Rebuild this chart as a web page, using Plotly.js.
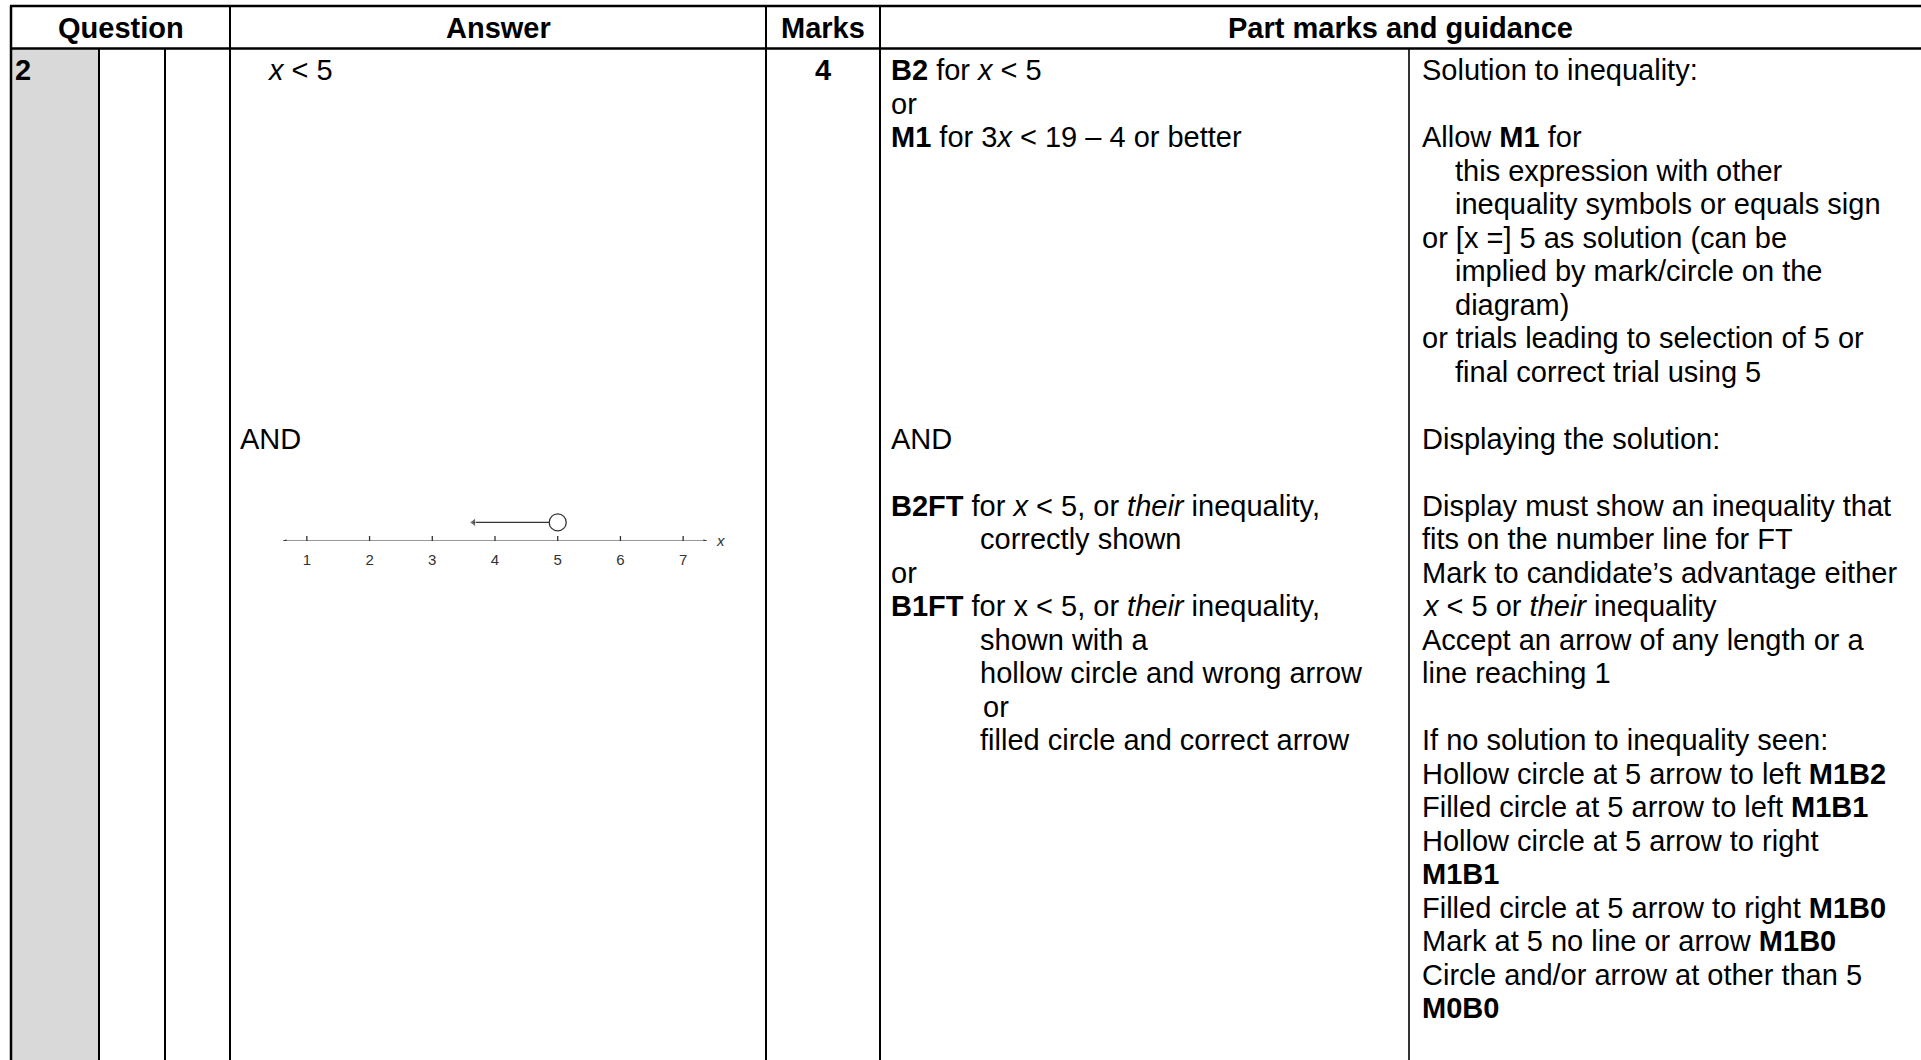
<!DOCTYPE html>
<html>
<head>
<meta charset="utf-8">
<script src="https://cdn.plot.ly/plotly-3.0.1.min.js"></script>
<style>
  html, body { margin: 0; padding: 0; background: #fff; }
  #chart { width: 1921px; height: 1060px; }
</style>
</head>
<body>
<div id="chart"></div>
<script>
// header cells
var headers = ['Question', 'Answer', 'Marks', 'Part marks and guidance'];
var questionNo = '2';
var marksValue = '4';

// answer column, one entry per text line
var answerLines = ['<i>x</i> &lt; 5', '', '', '', '', '', '', '', '', '', '', 'AND'];

// part marks column
var partLines = [
  '<b>B2</b> for <i>x</i> &lt; 5',
  'or',
  '<b>M1</b> for 3<i>x</i> &lt; 19 \u2013 4 or better',
  '', '', '', '', '', '', '', '',
  'AND',
  '',
  '<b>B2FT</b> for <i>x</i> &lt; 5, or <i>their</i> inequality,',
  'correctly shown',
  'or',
  '<b>B1FT</b> for x &lt; 5, or <i>their</i> inequality,',
  'shown with a',
  'hollow circle and wrong arrow',
  'or',
  'filled circle and correct arrow'
];
var partIndent = [0,0,0,0,0,0,0,0,0,0,0,0,0,0,1,0,0,1,1,2,1];

// guidance column
var guideLines = [
  'Solution to inequality:',
  '',
  'Allow <b>M1</b> for',
  'this expression with other',
  'inequality symbols or equals sign',
  'or [x =] 5 as solution (can be',
  'implied by mark/circle on the',
  'diagram)',
  'or trials leading to selection of 5 or',
  'final correct trial using 5',
  '',
  'Displaying the solution:',
  '',
  'Display must show an inequality that',
  'fits on the number line for FT',
  'Mark to candidate\u2019s advantage either',
  '<i>x</i> &lt; 5 or <i>their</i> inequality',
  'Accept an arrow of any length or a',
  'line reaching 1',
  '',
  'If no solution to inequality seen:',
  'Hollow circle at 5 arrow to left <b>M1B2</b>',
  'Filled circle at 5 arrow to left <b>M1B1</b>',
  'Hollow circle at 5 arrow to right',
  '<b>M1B1</b>',
  'Filled circle at 5 arrow to right <b>M1B0</b>',
  'Mark at 5 no line or arrow <b>M1B0</b>',
  'Circle and/or arrow at other than 5',
  '<b>M0B0</b>'
];
var guideIndent = [0,0,0,1,1,0,1,1,0,1,0,0,0,0,0,0,0,0,0,0,0,0,0,0,0,0,0,0,0];

// number line
var nlTicks = [1, 2, 3, 4, 5, 6, 7];
var nlRange = [0.62, 7.38];
var solutionPoint = 5;
var arrowEnd = 3.66;

var W = 1921, H = 1060;
var FONT = '"Liberation Sans", Arial, sans-serif';
var FS = 29;
var LH = 33.5;
var ROW0 = 70;
var TOP = 6, HEAD = 48.5;
var colEdges = [11, 99, 165, 230, 766, 880, 1409];

var annotations = [];
function addText(x, y, txt, opts) {
  var a = {
    x: x, y: y, xref: 'x', yref: 'y', text: txt, showarrow: false,
    xanchor: 'left', yanchor: 'middle',
    font: {family: FONT, size: FS, color: '#000'}
  };
  for (var k in opts) a[k] = opts[k];
  annotations.push(a);
}

// header
var headCenters = [(colEdges[0] + colEdges[3]) / 2, (colEdges[3] + colEdges[4]) / 2,
                   (colEdges[4] + colEdges[5]) / 2, (colEdges[5] + W) / 2];
headers.forEach(function(h, i) {
  addText(headCenters[i], (TOP + HEAD) / 2 + 1, '<b>' + h + '</b>', {xanchor: 'center'});
});

addText(13, ROW0, '<b>' + questionNo + '</b>');
addText(headCenters[2], ROW0, '<b>' + marksValue + '</b>', {xanchor: 'center'});

answerLines.forEach(function(t, i) {
  if (!t) return;
  addText(t === 'AND' ? 238 : 265, ROW0 + i * LH, t);
});
partLines.forEach(function(t, i) {
  if (!t) return;
  addText(889 + [0, 89, 92][partIndent[i]], ROW0 + i * LH, t);
});
guideLines.forEach(function(t, i) {
  if (!t) return;
  addText(1420 + guideIndent[i] * 33, ROW0 + i * LH, t);
});

// table rules
var shapes = [];
shapes.push({type: 'rect', xref: 'x', yref: 'y', x0: colEdges[0], x1: colEdges[1], y0: HEAD, y1: H,
             fillcolor: '#d9d9d9', line: {width: 0}, layer: 'below'});
function hline(y, x0, x1, w) {
  shapes.push({type: 'line', xref: 'x', yref: 'y', x0: x0, x1: x1, y0: y, y1: y, line: {color: '#000', width: w}});
}
function vline(x, y0, y1, w) {
  shapes.push({type: 'line', xref: 'x', yref: 'y', x0: x, x1: x, y0: y0, y1: y1, line: {color: '#000', width: w}});
}
hline(TOP, colEdges[0] - 1, W, 2.5);
hline(HEAD, colEdges[0] - 1, W, 2.5);
vline(colEdges[0], TOP, H, 2.5);
vline(colEdges[1], HEAD, H, 2);
vline(colEdges[2], HEAD, H, 2);
vline(colEdges[3], TOP, H, 2);
vline(colEdges[4], TOP, H, 2);
vline(colEdges[5], TOP, H, 2);
vline(colEdges[6], HEAD, H, 1.6);

// number line traces
var INK = '#333';
var circleY = 0.6;
var traces = [
  {
    x: nlRange, y: [0, 0], xaxis: 'x2', yaxis: 'y2', mode: 'lines+markers',
    line: {color: INK, width: 1.2},
    marker: {symbol: ['arrow-left', 'arrow-right'], size: 3.5, color: INK},
    hoverinfo: 'skip'
  },
  {
    x: nlTicks, y: nlTicks.map(function() { return -0.065; }), xaxis: 'x2', yaxis: 'y2', mode: 'markers',
    marker: {symbol: 'line-ns', size: 10, line: {color: INK, width: 1.3}},
    hoverinfo: 'skip'
  },
  {
    x: [solutionPoint, arrowEnd], y: [circleY, circleY], xaxis: 'x2', yaxis: 'y2', mode: 'lines+markers',
    line: {color: INK, width: 1.4},
    marker: {symbol: ['circle', 'triangle-left'], size: [0, 8], color: INK},
    hoverinfo: 'skip'
  },
  {
    x: [solutionPoint], y: [circleY], xaxis: 'x2', yaxis: 'y2', mode: 'markers',
    marker: {symbol: 'circle', size: 17, color: '#fff', line: {color: INK, width: 1.3}},
    hoverinfo: 'skip'
  }
];

annotations.push({
  x: nlRange[1], y: 0, xref: 'x2', yref: 'y2', text: '<i>x</i>', showarrow: false,
  xanchor: 'left', yanchor: 'middle', xshift: 7, yshift: 1,
  font: {family: FONT, size: 15, color: INK}
});

var lineY = 541, topY = 510;
var layout = {
  width: W, height: H,
  margin: {l: 0, r: 0, t: 0, b: 0, pad: 0},
  paper_bgcolor: '#fff', plot_bgcolor: 'rgba(0,0,0,0)',
  showlegend: false,
  xaxis: {range: [0, W], visible: false, fixedrange: true, domain: [0, 1]},
  yaxis: {range: [H, 0], visible: false, fixedrange: true, domain: [0, 1]},
  xaxis2: {
    domain: [283 / W, 707 / W], range: nlRange, anchor: 'y2',
    showline: false, zeroline: false, showgrid: false, ticks: '',
    tickvals: nlTicks, ticktext: nlTicks.map(String), ticklabelstandoff: 8,
    tickfont: {family: FONT, size: 15, color: INK}, fixedrange: true
  },
  yaxis2: {
    domain: [(H - lineY) / H, (H - topY) / H], range: [0, 1], anchor: 'x2',
    visible: false, fixedrange: true
  },
  shapes: shapes,
  annotations: annotations
};

Plotly.newPlot('chart', traces, layout, {displayModeBar: false, staticPlot: true});
</script>
</body>
</html>
